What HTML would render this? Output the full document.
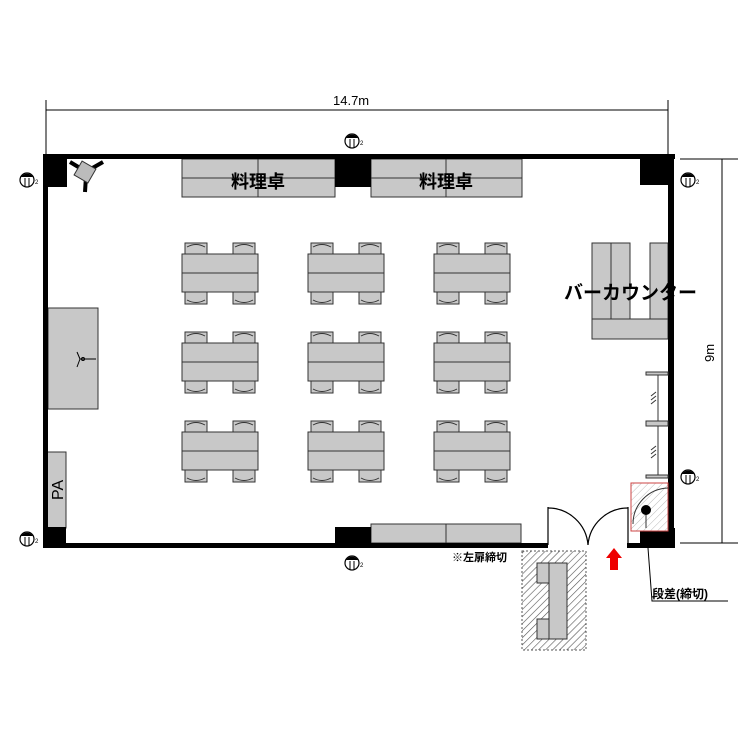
<!DOCTYPE html>
<html><head><meta charset="utf-8"><style>
html,body{margin:0;padding:0;background:#fff;width:750px;height:750px;overflow:hidden}
svg{display:block}
text{font-family:"Liberation Sans","Noto Sans CJK JP",sans-serif}
</style></head><body>
<svg width="750" height="750" viewBox="0 0 750 750" xmlns="http://www.w3.org/2000/svg">
<defs>
<pattern id="h" width="5" height="5" patternUnits="userSpaceOnUse" patternTransform="rotate(45)">
<rect width="5" height="5" fill="#fff"/><line x1="0" y1="0" x2="0" y2="5" stroke="#555" stroke-width="1.2"/></pattern>
<pattern id="h2" width="5" height="5" patternUnits="userSpaceOnUse" patternTransform="rotate(45)">
<rect width="5" height="5" fill="#fff"/><line x1="0" y1="0" x2="0" y2="5" stroke="#bbb" stroke-width="1"/></pattern>
<g id="out">
<circle cx="0" cy="0" r="7" fill="#fff" stroke="#000" stroke-width="1.2"/>
<path d="M-6,-3 A7,7 0 0 1 6,-3 Z" fill="#000"/>
<line x1="-2" y1="-2" x2="-2" y2="7" stroke="#000"/><line x1="2" y1="-2" x2="2" y2="7" stroke="#000"/>
<text x="8" y="4" font-size="6">2</text>
</g>
<g id="tset">
<g fill="#c8c8c8" stroke="#333" stroke-width="1">
<rect x="3" y="-11" width="22" height="12"/><rect x="51" y="-11" width="22" height="12"/>
<rect x="3" y="38" width="22" height="12"/><rect x="51" y="38" width="22" height="12"/>
<rect x="0" y="0" width="76" height="38"/>
</g>
<line x1="0" y1="19" x2="76" y2="19" stroke="#333"/>
<path d="M5,-7 Q14,-12 23,-7 M53,-7 Q62,-12 71,-7 M5,46 Q14,51 23,46 M53,46 Q62,51 71,46" fill="none" stroke="#333"/>
</g>
</defs>

<g stroke="#000" stroke-width="1" fill="none">
<line x1="46" y1="110" x2="668" y2="110"/>
<line x1="46" y1="100" x2="46" y2="155"/>
<line x1="668" y1="100" x2="668" y2="155"/>
<line x1="722" y1="159" x2="722" y2="543"/>
<line x1="680" y1="159" x2="738" y2="159"/>
<line x1="680" y1="543" x2="738" y2="543"/>
</g>
<text x="333" y="105" font-size="13">14.7m</text>
<text x="0" y="0" font-size="13" transform="translate(714,362) rotate(-90)">9m</text>

<g fill="#c8c8c8" stroke="#333">
<rect x="182" y="159" width="153" height="38"/><rect x="371" y="159" width="151" height="38"/>
<rect x="371" y="524" width="150" height="19"/>
<rect x="48" y="308" width="50" height="101"/>
<rect x="47" y="452" width="19" height="76"/>
<rect x="592" y="243" width="19" height="76"/><rect x="611" y="243" width="19" height="76"/><rect x="650" y="243" width="18" height="76"/>
<rect x="592" y="319" width="76" height="20"/>
</g>
<g stroke="#333">
<line x1="182" y1="178" x2="335" y2="178"/><line x1="258" y1="159" x2="258" y2="197"/>
<line x1="371" y1="178" x2="522" y2="178"/><line x1="446" y1="159" x2="446" y2="197"/>
<line x1="446" y1="524" x2="446" y2="543"/>
</g>
<text x="258" y="188" font-size="18" font-weight="bold" text-anchor="middle">料理卓</text>
<text x="446" y="188" font-size="18" font-weight="bold" text-anchor="middle">料理卓</text>

<use href="#tset" x="182" y="254"/><use href="#tset" x="308" y="254"/><use href="#tset" x="434" y="254"/>
<use href="#tset" x="182" y="343"/><use href="#tset" x="308" y="343"/><use href="#tset" x="434" y="343"/>
<use href="#tset" x="182" y="432"/><use href="#tset" x="308" y="432"/><use href="#tset" x="434" y="432"/>

<g fill="#000">
<rect x="43" y="154" width="632" height="5"/>
<rect x="43" y="154" width="5" height="394"/>
<rect x="668" y="154" width="6" height="394"/>
<rect x="43" y="543" width="505" height="5"/>
<rect x="627" y="543" width="48" height="5"/>
<rect x="43" y="154" width="24" height="33"/>
<rect x="335" y="154" width="36" height="33"/>
<rect x="640" y="154" width="30" height="31"/>
<rect x="43" y="527" width="23" height="21"/>
<rect x="335" y="527" width="36" height="21"/>
<rect x="640" y="528" width="35" height="20"/>
</g>

<g stroke="#000" fill="none" stroke-width="1.2">
<line x1="548" y1="507" x2="548" y2="545"/>
<line x1="628" y1="507" x2="628" y2="545"/>
<path d="M548,508 A40,40 0 0 1 588,545"/>
<path d="M628,508 A40,40 0 0 0 588,545"/>
</g>

<rect x="522" y="551" width="64" height="99" fill="url(#h)" stroke="#555" stroke-dasharray="2,2"/>
<g fill="#c8c8c8" stroke="#333">
<rect x="537" y="563" width="12" height="20"/><rect x="537" y="619" width="12" height="20"/>
<rect x="549" y="563" width="18" height="76"/>
</g>
<text x="452" y="561" font-size="11" font-weight="bold">※左扉締切</text>

<path d="M614,548 L622,558 L618,558 L618,570 L610,570 L610,558 L606,558 Z" fill="#e00"/>

<rect x="631" y="483" width="37" height="48" fill="url(#h2)" stroke="#c44"/>
<path d="M668,488 A36,36 0 0 0 633,524" fill="none" stroke="#333"/>
<line x1="646" y1="510" x2="646" y2="528" stroke="#333"/>
<circle cx="646" cy="510" r="5" fill="#000"/>
<polyline points="648,548 652,601 728,601" fill="none" stroke="#000"/>
<text x="652" y="598" font-size="12" font-weight="bold">段差(締切)</text>

<g stroke="#333">
<line x1="658" y1="372" x2="658" y2="478"/>
<rect x="646" y="372" width="22" height="3" fill="#c8c8c8"/>
<rect x="646" y="421" width="22" height="5" fill="#c8c8c8"/>
<rect x="646" y="475" width="22" height="3" fill="#c8c8c8"/>
<path d="M651,396 L656,392 M651,400 L656,396 M651,404 L656,400 M651,450 L656,446 M651,454 L656,450 M651,458 L656,454"/>
</g>

<text x="564" y="299" font-size="19" font-weight="bold">バーカウンター</text>

<text x="0" y="0" font-size="16" transform="translate(63,500) rotate(-90)">PA</text>
<g stroke="#000" fill="none">
<line x1="80" y1="359" x2="96" y2="359"/><line x1="80" y1="359" x2="77" y2="352"/><line x1="80" y1="359" x2="77" y2="367"/>
<circle cx="83" cy="359" r="1.5"/>
</g>

<!-- camera -->
<line x1="89" y1="170" x2="103" y2="162" stroke="#000" stroke-width="4"/>
<line x1="86" y1="176" x2="85" y2="192" stroke="#000" stroke-width="4"/>
<line x1="80" y1="168" x2="70" y2="162" stroke="#000" stroke-width="4"/>
<rect x="-8" y="-8" width="16" height="16" fill="#bbb" stroke="#333" transform="translate(85,172) rotate(30)"/>

<use href="#out" x="27" y="180"/><use href="#out" x="352" y="141"/>
<use href="#out" x="688" y="180"/><use href="#out" x="688" y="477"/>
<use href="#out" x="27" y="539"/><use href="#out" x="352" y="563"/>
</svg>
</body></html>
